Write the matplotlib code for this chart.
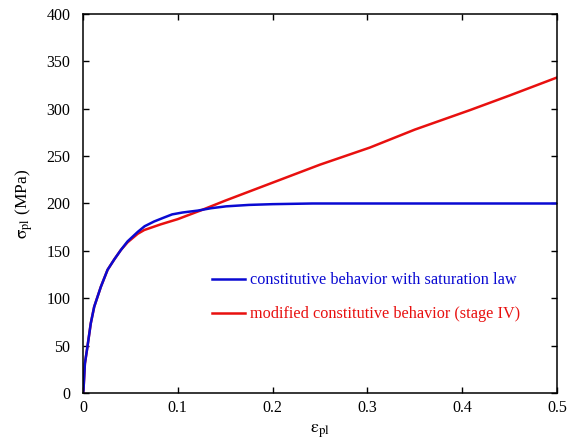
import matplotlib
matplotlib.use('Agg')
import matplotlib.pyplot as plt

# saturation law curve (blue)
eps_sat = [0, 0.0005, 0.002, 0.0047, 0.0082, 0.0118, 0.0188, 0.0259, 0.033, 0.04, 0.047,
           0.0577, 0.065, 0.075, 0.085, 0.094, 0.105, 0.121, 0.135, 0.151, 0.175, 0.2,
           0.242, 0.3, 0.4, 0.5]
sig_sat = [0, 3, 31, 49, 73.5, 91, 112, 130, 141, 151, 160,
           170, 176, 181, 185, 188.5, 190.5, 192.5, 195, 197, 198.5, 199.3,
           200, 200, 200, 200]

# modified behavior, stage IV (red)
eps_mod = [0, 0.0005, 0.002, 0.0047, 0.0082, 0.0118, 0.0188, 0.0259, 0.033, 0.04, 0.047,
           0.0577, 0.0646, 0.082, 0.1, 0.125, 0.15, 0.2, 0.25, 0.3025, 0.35, 0.408, 0.45, 0.5]
sig_mod = [0, 3, 31, 49, 73.5, 91, 112, 130, 141, 151, 159,
           168, 172, 178, 183.5, 193, 203, 222, 241, 259, 278, 298.5, 314, 333]

plt.rcParams['font.family'] = 'Liberation Serif'
plt.rcParams['mathtext.fontset'] = 'stix'

fig = plt.figure(figsize=(5.78, 4.42), dpi=100)
ax = fig.add_axes([0.1436, 0.1109, 0.8201, 0.8574])

l_mod, = ax.plot(eps_mod, sig_mod, color='#e8100f', lw=1.8)
l_sat, = ax.plot(eps_sat, sig_sat, color='#0a0ad2', lw=1.8)

ax.set_xlim(0, 0.5)
ax.set_ylim(0, 400)
ax.set_xticks([0, 0.1, 0.2, 0.3, 0.4, 0.5])
ax.set_xticklabels(['0', '0.1', '0.2', '0.3', '0.4', '0.5'])
ax.set_yticks(range(0, 401, 50))
ax.tick_params(direction='in', length=4.5, width=1, top=True, right=True, labelsize=11.5)
ax.tick_params(axis='y', pad=9)
ax.tick_params(axis='x', pad=5)
for s in ax.spines.values():
    s.set_linewidth(1.1)

ax.set_xlabel(r'$\mathrm{\varepsilon_{pl}}$', fontsize=13, labelpad=5)
ax.set_ylabel(r'$\mathrm{\sigma_{pl}}$ (MPa)', fontsize=12.5, labelpad=8)

ax.legend([l_sat, l_mod],
          ['constitutive behavior with saturation law',
           'modified constitutive behavior (stage IV)'],
          loc='upper left', bbox_to_anchor=(0.272, 0.318), frameon=False,
          labelcolor='linecolor', fontsize=11.7, handlelength=2.03,
          handletextpad=0.3, labelspacing=1.1, borderpad=0, borderaxespad=0)

fig.savefig('out.png', dpi=100)
